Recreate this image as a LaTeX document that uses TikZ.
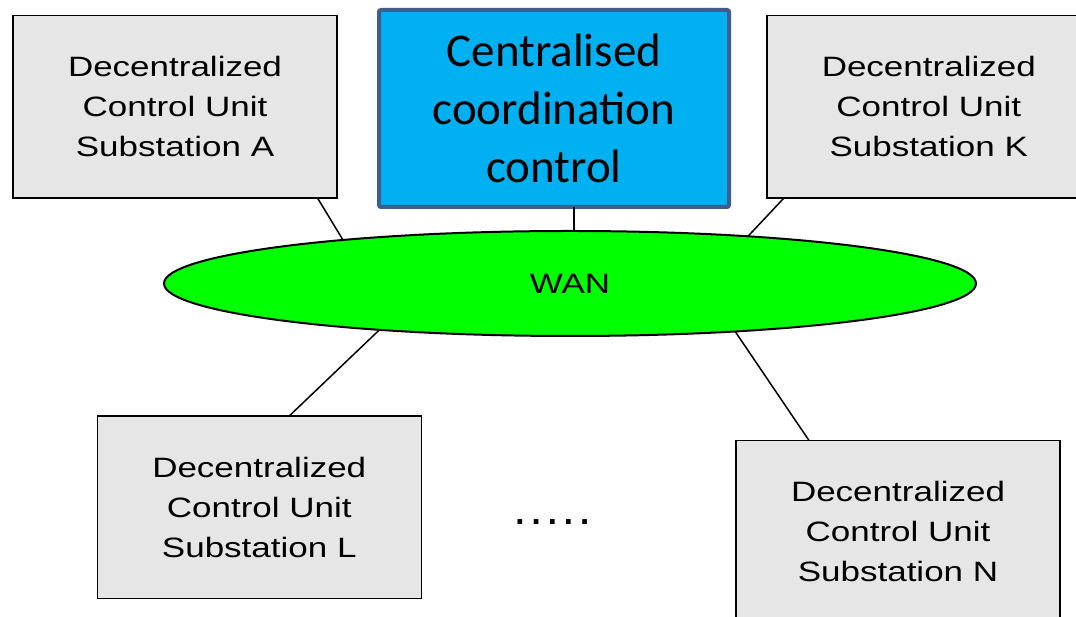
\documentclass[tikz,border=0pt]{standalone}
\usepackage{fontspec}
\usetikzlibrary{calc,shapes.geometric}
\newfontfamily\unitfont[FakeStretch=1.25]{Liberation Sans}
\newfontfamily\dotfont{Liberation Sans}
\newfontfamily\ctrlfont{Carlito}
\definecolor{unitgray}{HTML}{E6E6E6}
\definecolor{ctrlblue}{HTML}{00B0F0}
\definecolor{ctrledge}{HTML}{3D5E8E}
\definecolor{wangreen}{HTML}{00FF00}
\tikzset{
  unitbox/.style={draw=black, line width=1.5pt, fill=unitgray, inner sep=0pt, outer sep=0pt,
    minimum width=324pt, minimum height=182.5pt, align=center,
    font=\unitfont\fontsize{28}{40}\selectfont},
  ctrlbox/.style={draw=ctrledge, line width=4pt, fill=ctrlblue, rounded corners=2pt,
    inner sep=0pt, outer sep=0pt, minimum width=350pt, minimum height=197pt, align=center,
    font=\ctrlfont\fontsize{47}{58}\selectfont},
  wanshape/.style={ellipse, draw=black, line width=2pt, fill=wangreen, inner sep=0pt,
    outer sep=0pt, minimum width=812pt, minimum height=105pt,
    font=\unitfont\fontsize{28}{34}\selectfont},
  link/.style={draw=black, line width=1.5pt}
}
\begin{document}
\begin{tikzpicture}[x=1pt,y=1pt]
\useasboundingbox (0,0) rectangle (1076,617);
\fill[white] (0,0) rectangle (1076,617);

% controller and network
\node[ctrlbox] (C) at (554,508.5) {Centralised\\coordination\\control};
\node[wanshape] (wan) at (570,333.5) {WAN};

% substation units
\node[unitbox] (A) at (175,510.25) {Decentralized\\Control Unit\\Substation A};
\node[unitbox] (K) at (928.75,510) {Decentralized\\Control Unit\\Substation K};
\node[unitbox] (L) at (259.25,109.75) {Decentralized\\Control Unit\\Substation L};
\node[unitbox] (N) at (898,85.25) {Decentralized\\Control Unit\\Substation N};

\node[inner sep=0pt, font=\dotfont\bfseries\fontsize{33}{40}\selectfont] (dots) at (552.4,94.7)
  {.\kern7pt.\kern7pt.\kern7pt.\kern7pt.};

% links to the network
\coordinate (cfoot) at ($(C.south)+(20pt,0)$);
\draw[link] (cfoot) -- (cfoot |- wan.north);
\draw[link] ($(A.south west)+(304.5pt,0)$) -- ($(wan.center)+(124:406pt and 52.5pt)$);
\draw[link] ($(K.south west)+(17pt,0)$) -- ($(wan.center)+(64:406pt and 52.5pt)$);
\draw[link] ($(L.north west)+(192pt,0)$) -- ($(wan.center)+(242:406pt and 52.5pt)$);
\draw[link] ($(N.north west)+(73pt,0)$) -- ($(wan.center)+(294:406pt and 52.5pt)$);
\end{tikzpicture}
\end{document}
